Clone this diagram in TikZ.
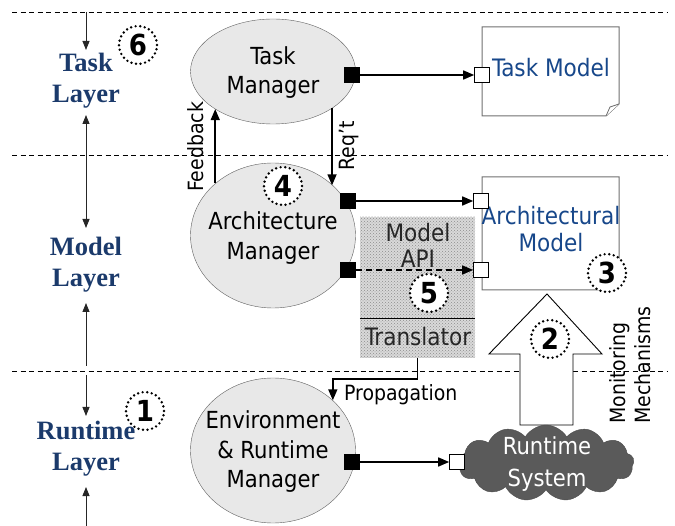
\documentclass[tikz,border=0pt]{standalone}
\usepackage{fontspec}
\setmainfont{DejaVu Sans Condensed}
\newfontfamily\layerfont{Liberation Serif}
\usetikzlibrary{shapes.geometric,shapes.symbols,arrows.meta,patterns,calc}
\definecolor{layerblue}{HTML}{1B3A6B}
\definecolor{modelblue}{HTML}{17478A}
\definecolor{ellfill}{HTML}{E8E8E8}
\definecolor{ellline}{HTML}{606060}
\definecolor{boxline}{HTML}{707070}
\definecolor{cloudfill}{HTML}{5A5A5A}
\begin{document}
\begin{tikzpicture}[x=1pt,y=-1pt,
  ell/.style={ellipse,draw=ellline,fill=ellfill,minimum width=165,inner sep=0},
  elltext/.style={align=center,inner sep=0,font=\fontsize{23.5}{29.5}\selectfont},
  bsq/.style={rectangle,fill=black,minimum size=16,inner sep=0},
  wsq/.style={rectangle,draw=black,fill=white,line width=0.6pt,minimum size=15,inner sep=0},
  arr/.style={line width=1.5pt,-{Triangle[length=11pt,width=9pt]}},
  ax/.style={line width=0.8pt,draw=black!85},
  axtip/.style={-{Triangle[length=9pt,width=7pt]}},
  sep/.style={line width=0.7pt,dash pattern=on 5pt off 3.5pt},
  layer/.style={align=center,text=layerblue,font=\layerfont\bfseries\fontsize{26.5}{31}\selectfont,inner sep=0},
  num/.style={circle,minimum size=38,inner sep=0,fill=white,draw=black,line width=2.7pt,dash pattern=on 0pt off 4.6pt,line cap=round,font=\bfseries\fontsize{29}{29}\selectfont},
  lbl/.style={font=\fontsize{21}{25}\selectfont,inner sep=0},
  model/.style={text=modelblue,font=\fontsize{24}{27}\selectfont,align=center,inner sep=0},
  mbox/.style={draw=boxline,line width=1pt,fill=white}]
\useasboundingbox (0,0) rectangle (675,526);

% layer separators
\draw[sep] (12,12) -- (668,12);
\draw[sep] (12,155.5) -- (668,155.5);
\draw[sep] (12,371) -- (668,371);

% layer labels and axis
\node[layer] (tl) at (86,81) {Task\\Layer};
\node[layer] (ml) at (86,265) {Model\\Layer};
\node[layer] (rl) at (86,449) {Runtime\\Layer};
\coordinate (a0) at (86,12);
\coordinate (a1) at (86,50);
\coordinate (a2) at (86,115);
\coordinate (a3) at (86,228);
\coordinate (a4) at (86,303);
\coordinate (a5) at (86,366);
\coordinate (a6) at (86,375);
\coordinate (a7) at (86,416);
\coordinate (a8) at (86,487);
\coordinate (a9) at (86,526);
\draw[ax,axtip] (a0) -- (a1);
\draw[ax,{Triangle[length=9pt,width=7pt]}-{Triangle[length=9pt,width=7pt]}] (a2) -- (a3);
\draw[ax,axtip] (a5) -- (a4);
\draw[ax,axtip] (a6) -- (a7);
\draw[ax,axtip] (a9) -- (a8);

% hatched Model API / Translator
\node[rectangle,minimum width=115,minimum height=141,inner sep=0,fill=gray!30,
      postaction={pattern=crosshatch dots,pattern color=gray!90}] (api) at (417.5,287.5) {};
\draw[line width=0.7pt] (api.west |- 0,318) -- (api.east |- 0,318);
\node[font=\fontsize{24}{26}\selectfont,align=center,inner sep=0,text=black!85] (apit) at (418,245) {Model\\API};
\node[font=\fontsize{24}{26}\selectfont,inner sep=0,text=black!85] (trt) at (418,337) {Translator};

% managers
\node[ell,minimum height=105] (tm) at (273,71.5) {};
\node[elltext] (tmt) at (273,72.5) {Task\\Manager};
\node[ell,minimum height=145] (am) at (273,235.5) {};
\node[elltext] (amt) at (273,238) {Architecture\\Manager};
\node[ell,minimum height=145] (em) at (273,450.5) {};
\node[elltext] (emt) at (273,452) {Environment\\\& Runtime\\Manager};

% task model box (folded corner)
\draw[mbox] (482,27) -- (619,27) -- (619,104) -- (606,116) -- (482,116) -- cycle;
\draw[boxline,line width=0.8pt,fill=white] (606,116) -- (610,107) -- (619,104);
\node[model] (tmod) at (551,68) {Task Model};

% architectural model box
\draw[mbox] (482,177) -- (619,177) -- (619,279) -- (607,290) -- (482,290) -- cycle;
\node[model] (amod) at (551,229) {Architectural\\Model};

% monitoring hollow arrow
\draw[line width=0.9pt,fill=white] (547,294) -- (602,354) -- (573,354) -- (573,425) -- (520,425) -- (520,354) -- (489,354) -- cycle;
\node[lbl,rotate=90,align=left] (mon) at (630,365) {Monitoring\\Mechanisms};

% runtime system cloud
\node[cloud,cloud puffs=13,cloud puff arc=120,cloud ignores aspect,minimum width=176,minimum height=76,
      inner sep=0,fill=cloudfill,draw=cloudfill!85!black] (rs) at (546,463) {};
\node[text=white,align=center,font=\fontsize{23.5}{32}\selectfont,inner sep=0] (rst) at (547,464) {Runtime\\System};

% ports
\node[bsq] (tmo) at (352,75) {};
\node[wsq] (tmi) at (482,75) {};
\node[bsq] (amo1) at (348,201) {};
\node[bsq] (amo2) at (348,270) {};
\node[wsq] (ami1) at (481,201) {};
\node[wsq] (ami2) at (481,270) {};
\node[bsq] (emo) at (352,462) {};
\node[wsq] (rsi) at (457,462) {};

% connectors
\draw[arr] (tmo.east) -- (tmi.west);
\draw[arr] (amo1.east) -- (ami1.west);
\draw[arr,dash pattern=on 6pt off 4pt] (amo2.east) -- (ami2.west);
\draw[arr] (emo.east) -- (rsi.west);
\draw[arr] (am.138.7) -- (am.138.7 |- tm.213);
\draw[arr] (tm.-32) -- (tm.-32 |- am.40.3);
\draw[arr] (api.south) -- ($(api.south)+(0,21)$) -| (em.40.4);

% labels
\node[lbl,rotate=90] (fb) at (196,147) {Feedback};
\node[lbl,rotate=90] (rq) at (349,146) {Req't};
\node[lbl,anchor=west] (prop) at (344,395) {Propagation};

% numbered markers
\node[num] (n6) at (138,45) {6};
\node[num] (n4) at (283,186) {4};
\node[num] (n5) at (429,293) {5};
\node[num] (n3) at (607,273) {3};
\node[num] (n2) at (550,339) {2};
\node[num] (n1) at (145,411) {1};
\end{tikzpicture}
\end{document}
